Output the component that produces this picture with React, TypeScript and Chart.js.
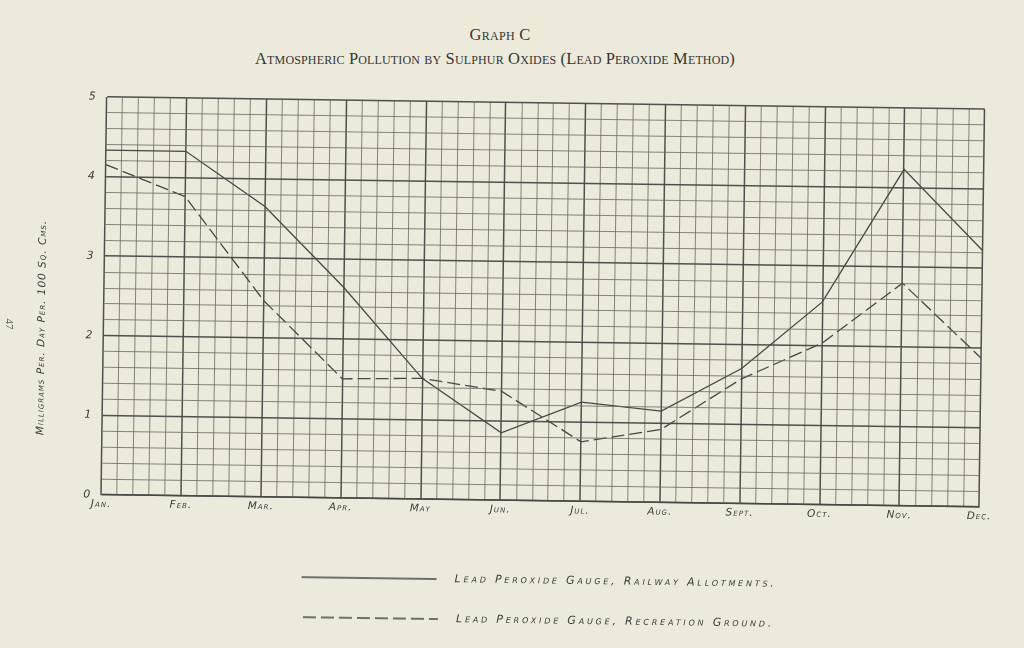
import { useEffect, useRef } from "react";
import { Chart, registerables } from "chart.js";

Chart.register(...registerables);

// ---- data ----
const MONTHS = ["Jan.", "Feb.", "Mar.", "Apr.", "May", "Jun.", "Jul.", "Aug.", "Sept.", "Oct.", "Nov.", "Dec."];
const RAILWAY_ALLOTMENTS = [4.33, 4.33, 3.65, 2.65, 1.52, 0.85, 1.25, 1.15, 1.7, 2.55, 4.23, 3.22];
const RECREATION_GROUND = [4.15, 3.76, 2.47, 1.5, 1.52, 1.37, 0.75, 0.92, 1.57, 2.03, 2.8, 1.87];
const Y_TICK_LABELS = ["0", "1", "2", "3", "4", "5"];
const SERIES_NAMES = ["Lead Peroxide Gauge, Railway Allotments.", "Lead Peroxide Gauge, Recreation Ground."];
const TITLE = "Graph C";
const SUBTITLE = "Atmospheric Pollution by Sulphur Oxides (Lead Peroxide Method)";
const Y_TITLE = "Milligrams Per. Day Per. 100 Sq. Cms.";
const PAGE_NUMBER = "47";

// ---- styles ----
const PAPER = "#ebeadb";
const INK = "#474744";
const LETTER_INK = "#3c3c39";
const MAJOR = "rgba(72,72,68,0.95)";
const MINOR = "rgba(105,105,98,0.8)";
const DASH = [13, 5];
const HAND_FONT = { family: "'DejaVu Sans'", style: "italic", weight: "small-caps 300" };
const TILT = (0.8 * Math.PI) / 180;
const PIVOT = { x: 543, y: 302 };

const isMajor = (v: number) => Math.abs(v - Math.round(v)) < 1e-6;

function makeSample(dash: number[]) {
  const c = document.createElement("canvas");
  c.width = 135;
  c.height = 4;
  const g = c.getContext("2d")!;
  g.strokeStyle = INK;
  g.lineWidth = 1.3;
  g.setLineDash(dash);
  g.beginPath();
  g.moveTo(0, 2);
  g.lineTo(135, 2);
  g.stroke();
  return c;
}

const paperPlugin = {
  id: "paper",
  beforeLayout(chart: any) {
    chart.ctx.letterSpacing = "2.8px";
  },
  beforeDraw(chart: any) {
    const ctx = chart.ctx;
    ctx.save();
    ctx.translate(PIVOT.x, PIVOT.y);
    ctx.rotate(TILT);
    ctx.translate(-PIVOT.x, -PIVOT.y);
    ctx.letterSpacing = "2.8px";
  },
  beforeDatasetsDraw(chart: any) {
    chart.ctx.letterSpacing = "1px";
  },
  afterDraw(chart: any) {
    chart.ctx.restore();
    chart.ctx.letterSpacing = "0px";
  },
};

export default function App() {
  const canvasRef = useRef<HTMLCanvasElement | null>(null);

  useEffect(() => {
    const canvas = canvasRef.current;
    if (!canvas) return;
    const samples = [makeSample([]), makeSample(DASH)];
    const chart = new Chart(canvas, {
      type: "line",
      data: {
        datasets: [
          {
            label: SERIES_NAMES[0],
            data: MONTHS.map((_, i) => ({ x: i, y: RAILWAY_ALLOTMENTS[i] })),
            borderColor: INK,
            borderWidth: 1.3,
            pointRadius: 0,
            tension: 0,
            fill: false,
          },
          {
            label: SERIES_NAMES[1],
            data: MONTHS.map((_, i) => ({ x: i, y: RECREATION_GROUND[i] })),
            borderColor: INK,
            borderWidth: 1.3,
            borderDash: DASH,
            pointRadius: 0,
            tension: 0,
            fill: false,
          },
        ],
      },
      options: {
        responsive: false,
        animation: false,
        devicePixelRatio: 1,
        layout: { padding: { left: 16, right: 42, top: 103, bottom: 12 } },
        plugins: {
          title: { display: false },
          tooltip: { enabled: false },
          legend: {
            position: "bottom",
            align: "center",
            fullSize: false,
            labels: {
              usePointStyle: true,
              pointStyleWidth: 135,
              boxHeight: 11,
              padding: 29,
              color: LETTER_INK,
              font: { ...HAND_FONT, size: 11 },
              generateLabels: (c: any) =>
                Chart.defaults.plugins.legend.labels
                  .generateLabels(c)
                  .map((l: any, i: number) => ({ ...l, text: "  " + l.text, pointStyle: samples[i] })),
            },
          },
        },
        scales: {
          x: {
            type: "linear",
            min: 0,
            max: 11,
            afterFit: (s: any) => {
              s.height = 45;
            },
            grid: {
              drawTicks: false,
              color: (c: any) => (isMajor(c.tick.value) ? MAJOR : MINOR),
              lineWidth: (c: any) => (isMajor(c.tick.value) ? 1.5 : 1),
            },
            border: { display: true, color: MAJOR, width: 1.5 },
            ticks: {
              z: 1,
              stepSize: 0.2,
              autoSkip: false,
              maxRotation: 0,
              minRotation: 0,
              padding: 3,
              color: LETTER_INK,
              font: { ...HAND_FONT, size: 10.5 },
              callback: (v: any) => {
                const n = Number(v);
                return isMajor(n) ? MONTHS[Math.round(n)] : "";
              },
            },
          },
          y: {
            type: "linear",
            min: 0,
            max: 5,
            afterFit: (s: any) => {
              s.width = 88;
            },
            title: {
              display: true,
              text: Y_TITLE + " ".repeat(15),
              color: LETTER_INK,
              font: { ...HAND_FONT, size: 10.5 },
              padding: { top: 20, bottom: 0 },
            },
            grid: {
              z: 1,
              drawTicks: false,
              color: (c: any) => (isMajor(c.tick.value) ? MAJOR : MINOR),
              lineWidth: (c: any) => (isMajor(c.tick.value) ? 1.5 : 1),
            },
            border: { display: true, color: MAJOR, width: 1.5 },
            ticks: {
              z: 1,
              stepSize: 0.2,
              autoSkip: false,
              padding: 10,
              color: LETTER_INK,
              font: { ...HAND_FONT, size: 11 },
              callback: (v: any) => {
                const n = Number(v);
                return isMajor(n) ? Y_TICK_LABELS[Math.round(n)] : "";
              },
            },
          },
        },
      },
      plugins: [paperPlugin],
    } as any);
    return () => chart.destroy();
  }, []);

  const titleStyle = {
    position: "absolute" as const,
    transform: "translateX(-50%)",
    whiteSpace: "nowrap" as const,
    fontFamily: "'Liberation Serif', serif",
    fontVariant: "small-caps",
    lineHeight: "20px",
    color: "#363633",
  };

  return (
    <div
      style={{
        position: "absolute",
        left: 0,
        top: 0,
        width: 1024,
        height: 648,
        overflow: "hidden",
        background: PAPER,
      }}
    >
      <div style={{ ...titleStyle, left: 500, top: 25, fontSize: 16.5, letterSpacing: "0.3px" }}>{TITLE}</div>
      <div style={{ ...titleStyle, left: 495, top: 49, fontSize: 16.5, letterSpacing: "0.15px" }}>{SUBTITLE}</div>
      <canvas
        ref={canvasRef}
        width={1024}
        height={648}
        style={{ position: "absolute", left: 0, top: 0, width: 1024, height: 648 }}
      />
      <div style={{ position: "absolute", left: 0, top: 60, width: 7, height: 440, background: PAPER }} />
      <div
        style={{
          position: "absolute",
          left: 4,
          top: 318,
          transform: "rotate(90deg)",
          fontFamily: "'Liberation Serif', serif",
          fontSize: 11,
          lineHeight: "12px",
          color: "#555550",
        }}
      >
        {PAGE_NUMBER}
      </div>
    </div>
  );
}
